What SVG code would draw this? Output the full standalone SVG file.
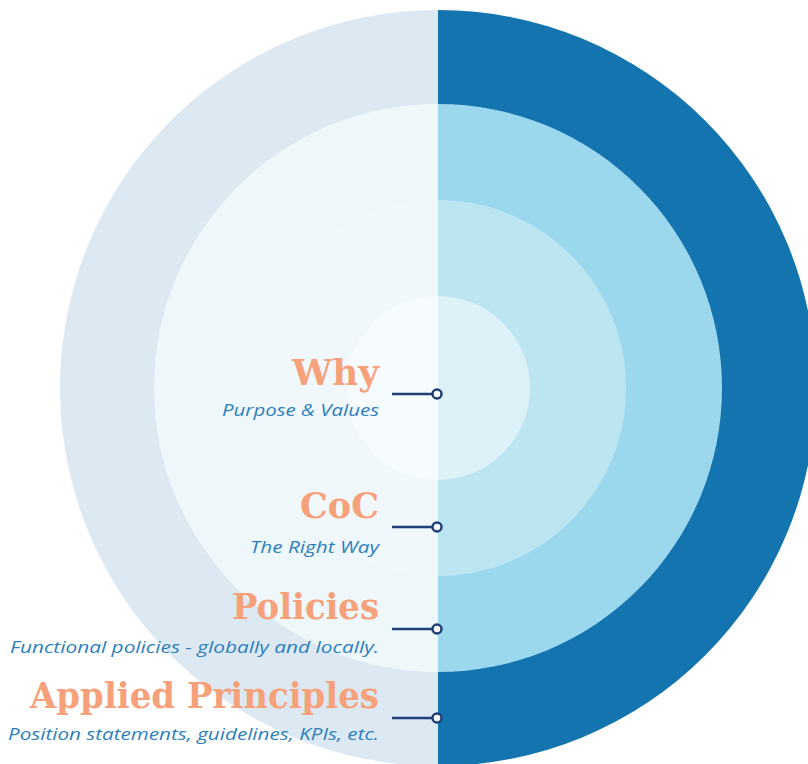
<svg xmlns="http://www.w3.org/2000/svg" width="808" height="764" viewBox="0 0 808 764">
<defs>
<style>
.h{font-family:"DejaVu Serif",serif;font-weight:bold;font-size:35px;fill:#f7a17b;text-anchor:end}
.s{font-family:"Open Sans","Lato",sans-serif;font-style:italic;font-size:17px;fill:#2d7fbd;text-anchor:end}
.c{stroke:#1f3f78;stroke-width:2.5;fill:none}
.d{stroke:#1f3f78;stroke-width:2.5;fill:#ffffff}
</style>
<clipPath id="L"><rect x="0" y="0" width="438" height="764"/></clipPath>
<clipPath id="R"><rect x="438" y="0" width="370" height="764"/></clipPath>
</defs>
<rect width="808" height="764" fill="#ffffff"/>
<g id="rings-left" clip-path="url(#L)">
<circle cx="438" cy="388" r="378" fill="#dce9f3"/>
<circle cx="438" cy="388" r="284" fill="#eef7fa"/>
<circle cx="438" cy="388" r="188" fill="#f1f8fb"/>
<circle cx="438" cy="388" r="92" fill="#f6fbfd"/>
</g>
<g id="rings-right" clip-path="url(#R)">
<circle cx="438" cy="388" r="378" fill="#1474b0"/>
<circle cx="438" cy="388" r="284" fill="#9bd8ed"/>
<circle cx="438" cy="388" r="188" fill="#bce5f2"/>
<circle cx="438" cy="388" r="92" fill="#dcf1f8"/>
</g>
<g id="node-why">
<text class="h" x="379" y="385" textLength="87" lengthAdjust="spacingAndGlyphs">Why</text>
<text class="s" x="379" y="416" textLength="157" lengthAdjust="spacingAndGlyphs">Purpose &amp; Values</text>
</g>
<g id="node-coc">
<text class="h" x="379" y="518" textLength="79" lengthAdjust="spacingAndGlyphs">CoC</text>
<text class="s" x="379" y="553" textLength="129" lengthAdjust="spacingAndGlyphs">The Right Way</text>
</g>
<g id="node-policies">
<text class="h" x="379" y="619" textLength="147" lengthAdjust="spacingAndGlyphs">Policies</text>
<text class="s" x="379" y="653" textLength="369" lengthAdjust="spacingAndGlyphs">Functional policies - globally and locally.</text>
</g>
<g id="node-applied">
<text class="h" x="379" y="708" textLength="349" lengthAdjust="spacingAndGlyphs">Applied Principles</text>
<text class="s" x="379" y="740" textLength="371" lengthAdjust="spacingAndGlyphs">Position statements, guidelines, KPIs, etc.</text>
</g>
<g id="connectors">
<line class="c" x1="392" y1="394" x2="433" y2="394"/>
<circle class="d" cx="437" cy="394" r="4.5"/>
<line class="c" x1="392" y1="527" x2="433" y2="527"/>
<circle class="d" cx="437" cy="527" r="4.5"/>
<line class="c" x1="392" y1="629" x2="433" y2="629"/>
<circle class="d" cx="437" cy="629" r="4.5"/>
<line class="c" x1="392" y1="718" x2="433" y2="718"/>
<circle class="d" cx="437" cy="718" r="4.5"/>
</g>
</svg>
